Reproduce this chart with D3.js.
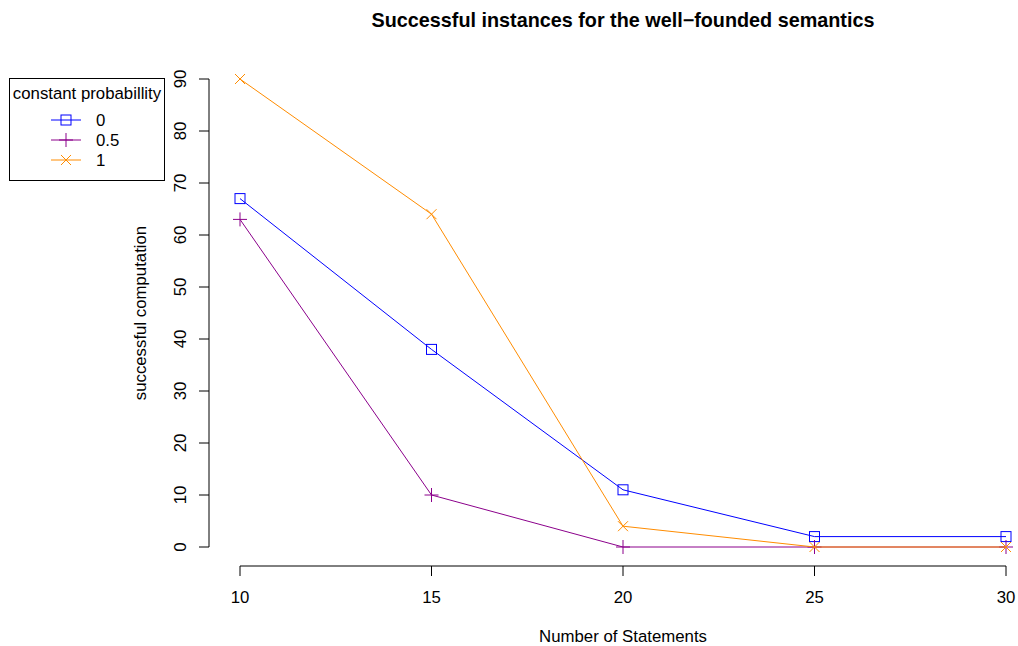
<!DOCTYPE html>
<html>
<head>
<meta charset="utf-8">
<script src="https://cdn.jsdelivr.net/npm/d3@7"></script>
<style>
  body { margin: 0; background: #fff; }
  text { font-family: "Liberation Sans", Arial, sans-serif; fill: #000; }
</style>
</head>
<body>
<svg width="1018" height="646"></svg>
<script>
var statements = [10, 15, 20, 25, 30];
var seriesNames = ["0", "0.5", "1"];
var prob0 = [67, 38, 11, 2, 2];
var prob05 = [63, 10, 0, 0, 0];
var prob1 = [90, 64, 4, 0, 0];
var xTicks = [10, 15, 20, 25, 30];
var yTicks = [0, 10, 20, 30, 40, 50, 60, 70, 80, 90];

var series = [
    {name: seriesNames[0], values: prob0, color: "#0000ff", shape: "square"},
    {name: seriesNames[1], values: prob05, color: "#8b008b", shape: "plus"},
    {name: seriesNames[2], values: prob1, color: "#ff8c00", shape: "cross"}
];

var fs = 16.8;
var svg = d3.select("svg");

// R style: 4% padding on each side of the data range
var x = d3.scaleLinear().domain([10, 30]).range([240, 1006]);
var y = d3.scaleLinear().domain([0, 90]).range([547, 79]);

var axisX = 209, axisY = 566;

// y axis
var gy = svg.append("g").attr("transform", "translate(" + axisX + ",0)");
gy.append("line")
    .attr("y1", y(0)).attr("y2", y(90))
    .attr("stroke", "#000");
gy.selectAll(".tick").data(yTicks).enter().append("line")
    .attr("x1", 0).attr("x2", -10)
    .attr("y1", function(d) { return y(d); })
    .attr("y2", function(d) { return y(d); })
    .attr("stroke", "#000");
gy.selectAll(".lbl").data(yTicks).enter().append("text")
    .attr("transform", function(d) { return "translate(-23," + y(d) + ") rotate(-90)"; })
    .attr("text-anchor", "middle")
    .attr("font-size", fs)
    .text(function(d) { return d; });

// x axis
var gx = svg.append("g").attr("transform", "translate(0," + axisY + ")");
gx.append("line")
    .attr("x1", x(10)).attr("x2", x(30))
    .attr("stroke", "#000");
gx.selectAll(".tick").data(xTicks).enter().append("line")
    .attr("x1", function(d) { return x(d); })
    .attr("x2", function(d) { return x(d); })
    .attr("y1", 0).attr("y2", 10)
    .attr("stroke", "#000");
gx.selectAll(".lbl").data(xTicks).enter().append("text")
    .attr("x", function(d) { return x(d); })
    .attr("y", 37)
    .attr("text-anchor", "middle")
    .attr("font-size", fs)
    .text(function(d) { return d; });

// titles
svg.append("text")
    .attr("x", 623).attr("y", 27)
    .attr("text-anchor", "middle")
    .attr("font-size", 19.8)
    .attr("font-weight", "bold")
    .text("Successful instances for the well\u2212founded semantics");

svg.append("text")
    .attr("x", 623).attr("y", 642)
    .attr("text-anchor", "middle")
    .attr("font-size", fs)
    .text("Number of Statements");

svg.append("text")
    .attr("transform", "translate(146," + y(45) + ") rotate(-90)")
    .attr("text-anchor", "middle")
    .attr("font-size", fs)
    .text("successful computation");

function drawSymbol(g, shape, color) {
    if (shape === "square") {
        g.append("rect").attr("x", -5).attr("y", -5).attr("width", 10).attr("height", 10)
            .attr("fill", "none").attr("stroke", color);
    } else if (shape === "plus") {
        g.append("path").attr("d", "M-7,0H7M0,-7V7").attr("stroke", color).attr("fill", "none");
    } else {
        g.append("path").attr("d", "M-5,-5L5,5M-5,5L5,-5").attr("stroke", color).attr("fill", "none");
    }
}

var line = d3.line()
    .x(function(d, i) { return x(statements[i]); })
    .y(function(d) { return y(d); });

series.forEach(function(s) {
    svg.append("path")
        .datum(s.values)
        .attr("fill", "none")
        .attr("stroke", s.color)
        .attr("stroke-width", 1)
        .attr("d", line);
    s.values.forEach(function(v, i) {
        var g = svg.append("g").attr("transform", "translate(" + x(statements[i]) + "," + y(v) + ")");
        drawSymbol(g, s.shape, s.color);
    });
});

// legend
var lg = svg.append("g");
lg.append("rect")
    .attr("x", 9.5).attr("y", 78.5).attr("width", 155).attr("height", 102)
    .attr("fill", "#fff").attr("stroke", "#000");
lg.append("text")
    .attr("x", 87).attr("y", 99)
    .attr("text-anchor", "middle")
    .attr("font-size", fs)
    .text("constant probabillity");
series.forEach(function(s, i) {
    var ly = 120 + i * 20;
    lg.append("line")
        .attr("x1", 51).attr("x2", 81).attr("y1", ly).attr("y2", ly)
        .attr("stroke", s.color);
    var g = lg.append("g").attr("transform", "translate(66," + ly + ")");
    drawSymbol(g, s.shape, s.color);
    lg.append("text")
        .attr("x", 96).attr("y", ly + 6)
        .attr("font-size", fs)
        .text(s.name);
});
</script>
</body>
</html>
